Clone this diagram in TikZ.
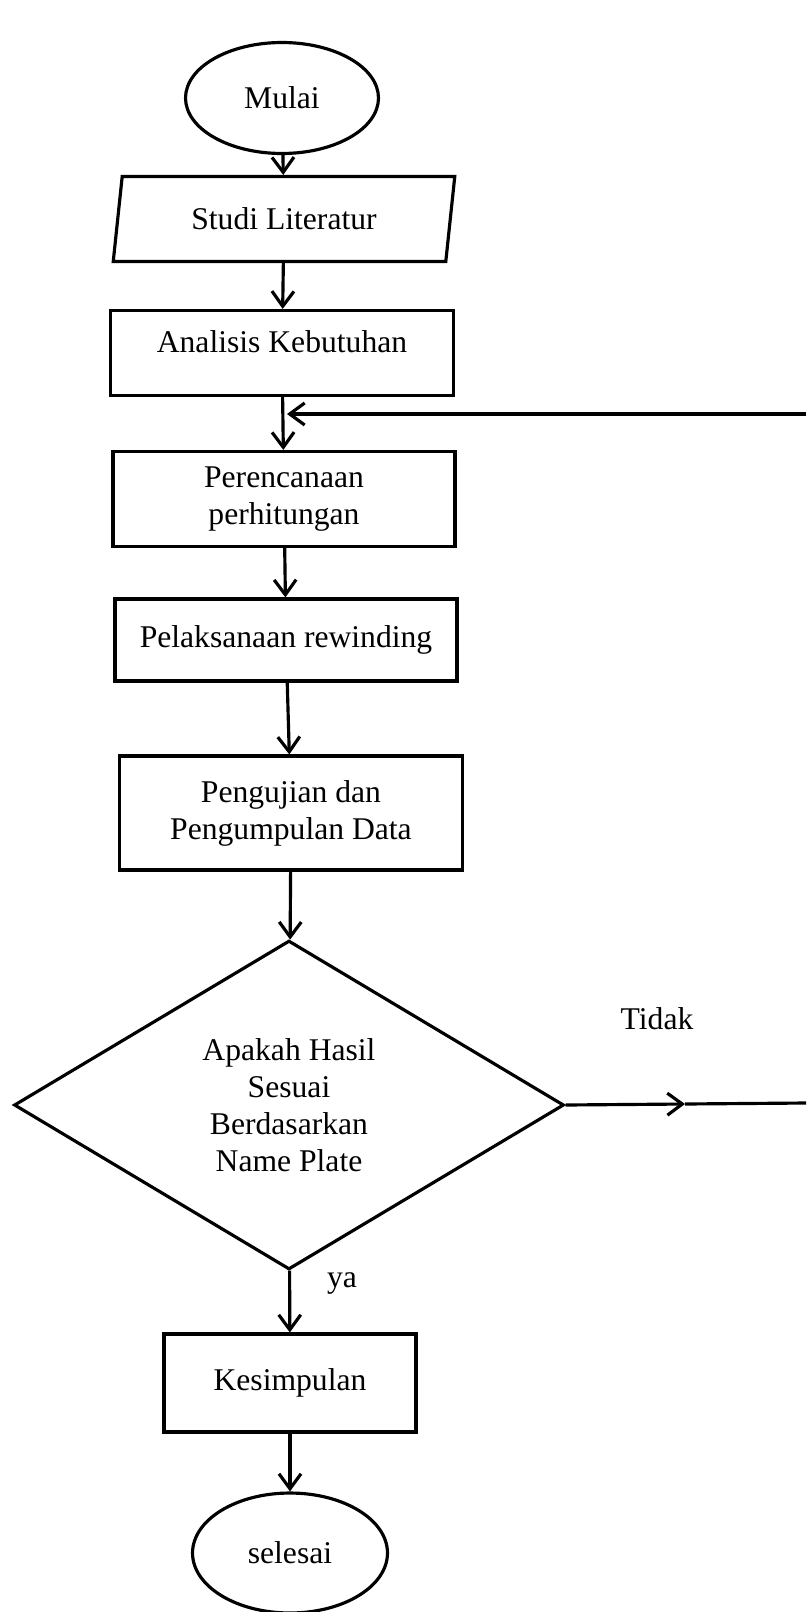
\documentclass[tikz,border=0pt]{standalone}
\usepackage{fontspec}
\setmainfont{Liberation Serif}
\usepackage{tikz}
\usetikzlibrary{shapes.geometric, arrows.meta, positioning}

\begin{document}
\begin{tikzpicture}[x=0.02cm, y=-0.02cm,
    line width=1.8pt,
    >={Straight Barb[length=3mm, width=4.4mm]},
    every node/.style={font=\fontsize{18}{21}\selectfont, align=center},
    terminal/.style={ellipse, draw, inner sep=0pt},
    process/.style={rectangle, draw, inner sep=0pt},
    io/.style={trapezium, trapezium left angle=77, trapezium right angle=103, trapezium stretches=true, draw, inner sep=0pt},
    decision/.style={diamond, draw, inner sep=0pt},
    flow/.style={->, line width=1.8pt}]
    \useasboundingbox (0,0) rectangle (806,1612);

    \node (mulai) at (282,98) [terminal, minimum width=3.86cm, minimum height=2.22cm] {Mulai};
    \node (studi) at (284,219) [io, minimum width=6.84cm, minimum height=1.7cm] {Studi Literatur};
    \node (analisis) at (282,353) [process, minimum width=6.86cm, minimum height=1.7cm, text depth=0.45cm] {Analisis Kebutuhan};
    \node (rencana) at (284,499) [process, minimum width=6.84cm, minimum height=1.9cm] {Perencanaan\\perhitungan};
    \node (rewind) at (286,640) [process, minimum width=6.84cm, minimum height=1.64cm] {Pelaksanaan rewinding};
    \node (uji) at (291,813) [process, minimum width=6.86cm, minimum height=2.28cm] {Pengujian dan\\Pengumpulan Data};
    \node (cek) at (289,1105) [decision, minimum width=11cm, minimum height=6.58cm] {Apakah Hasil\\Sesuai\\Berdasarkan\\Name Plate};
    \node (simpul) at (290,1383) [process, minimum width=5.04cm, minimum height=1.96cm] {Kesimpulan};
    \node (selesai) at (290,1553) [terminal, minimum width=3.9cm, minimum height=2.4cm] {selesai};

    \node (tidak) at (657,1019) {Tidak};
    \node (ya) at (342,1283) {ya};

    \coordinate (join) at (287,414);
    \coordinate (rtop) at (806,414);
    \coordinate (rbot) at (806,1103);
    \coordinate (tmid) at (685,1104);

    \draw [flow] (mulai) -- (studi);
    \draw [flow] (studi) -- (analisis);
    \draw [flow] (analisis) -- (rencana);
    \draw [flow] (rencana) -- (rewind);
    \draw [flow] (rewind) -- (uji);
    \draw [flow] (uji) -- (cek);
    \draw [flow] (cek) -- (simpul);
    \draw [flow] (simpul) -- (selesai);

    % kembali ke perencanaan
    \draw [flow] (cek.east) -- (tmid);
    \draw (tmid) -- (rbot);
    \draw [flow] (rtop) -- (join);
\end{tikzpicture}
\end{document}
